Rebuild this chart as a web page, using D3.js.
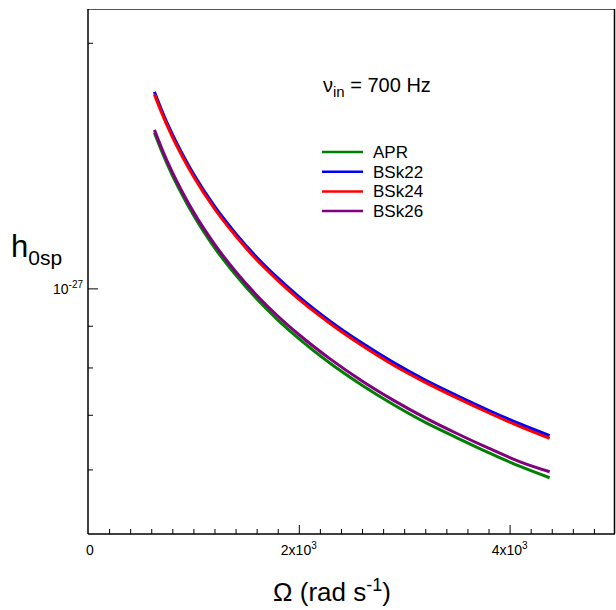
<!DOCTYPE html>
<html>
<head>
<meta charset="utf-8">
<script src="https://cdn.jsdelivr.net/npm/d3@7"></script>
<style>
  html, body { margin: 0; padding: 0; background: #fff; }
  text { font-family: "Liberation Sans", Arial, sans-serif; fill: #000; }
</style>
</head>
<body>
<svg id="chart" width="616" height="610"></svg>
<script>
// ---- data (h0sp in units of 1e-27) ----
const omega = [630, 700, 800, 900, 1000, 1200, 1400, 1600, 1800, 2000, 2300, 2600, 2900, 3200, 3500, 3800, 4100, 4380];
const hAPR   = [1.552, 1.472, 1.376, 1.298, 1.230, 1.122, 1.039, 0.971, 0.915, 0.868, 0.809, 0.761, 0.720, 0.685, 0.656, 0.629, 0.605, 0.586];
const hBSk22 = [1.741, 1.652, 1.545, 1.457, 1.382, 1.261, 1.168, 1.092, 1.030, 0.977, 0.911, 0.857, 0.811, 0.772, 0.739, 0.709, 0.682, 0.660];
const hBSk24 = [1.729, 1.640, 1.534, 1.447, 1.372, 1.252, 1.160, 1.084, 1.023, 0.970, 0.905, 0.851, 0.805, 0.767, 0.734, 0.704, 0.677, 0.655];
const hBSk26 = [1.564, 1.484, 1.388, 1.309, 1.241, 1.133, 1.049, 0.981, 0.925, 0.878, 0.819, 0.770, 0.729, 0.694, 0.664, 0.637, 0.613, 0.596];
const seriesNames = ["APR", "BSk22", "BSk24", "BSk26"];
const seriesColors = ["#008000", "#0000ff", "#ff0000", "#800080"];
const xMinorTicks = d3.range(200, 5000, 200);
const xMajorTicks = [2000, 4000];
const xTickLabels = [["0", null], ["2x10", "3"], ["4x10", "3"]];
const xTickLabelValues = [0, 2000, 4000];
const yMinorTicks = [0.6, 0.7, 0.8, 0.9, 2];
const yMajorTicks = [1];
const yTickLabel = ["10", "-27"];

const svg = d3.select("#chart");
const L = 88, R = 615, T = 9, B = 534;
const x = d3.scaleLinear().domain([0, 5000]).range([L, R]);
const y = d3.scaleLog().domain([0.5, 2.2]).range([B, T]);

// frame
svg.append("line").attr("x1", L).attr("x2", R).attr("y1", T + 0.5).attr("y2", T + 0.5)
  .attr("stroke", "#555").attr("stroke-width", 1);
svg.append("line").attr("x1", R - 0.5).attr("x2", R - 0.5).attr("y1", T).attr("y2", B)
  .attr("stroke", "#000").attr("stroke-width", 1.5);

// x axis
const xAxis = d3.axisTop(x).tickValues(xMinorTicks).tickSize(5).tickFormat("");
const gx = svg.append("g").attr("transform", `translate(0,${B})`).call(xAxis);
gx.select(".domain").remove();
gx.selectAll(".tick line").attr("stroke", "#000").attr("stroke-width", 1)
  .attr("y2", d => xMajorTicks.includes(d) ? -9 : -5);

// y axis
const yAxis = d3.axisRight(y).tickValues(yMinorTicks.concat(yMajorTicks)).tickSize(5).tickFormat("");
const gy = svg.append("g").attr("transform", `translate(${L},0)`).call(yAxis);
gy.select(".domain").remove();
gy.selectAll(".tick line").attr("stroke", "#000").attr("stroke-width", 1)
  .attr("x2", d => yMajorTicks.includes(d) ? 10 : 5);

// axis lines
svg.append("line").attr("x1", L).attr("x2", R).attr("y1", B).attr("y2", B)
  .attr("stroke", "#000").attr("stroke-width", 1.5);
svg.append("line").attr("x1", L).attr("x2", L).attr("y1", T).attr("y2", B)
  .attr("stroke", "#000").attr("stroke-width", 1.5);

// x tick labels
xTickLabelValues.forEach((v, i) => {
  const t = svg.append("text").attr("x", x(v) + (v === 0 ? 2 : 0)).attr("y", 555)
    .attr("text-anchor", "middle").attr("font-size", 14);
  t.append("tspan").text(xTickLabels[i][0]);
  if (xTickLabels[i][1]) t.append("tspan").attr("dy", -6).attr("font-size", 10).text(xTickLabels[i][1]);
});

// y tick label
{
  const t = svg.append("text").attr("x", 83).attr("y", 294).attr("text-anchor", "end").attr("font-size", 14);
  t.append("tspan").text(yTickLabel[0]);
  t.append("tspan").attr("dy", -6).attr("font-size", 10).text(yTickLabel[1]);
}

// axis titles
{
  const t = svg.append("text").attr("x", 332).attr("y", 601).attr("text-anchor", "middle").attr("font-size", 26);
  t.append("tspan").text("Ω (rad s");
  t.append("tspan").attr("dy", -10).attr("font-size", 18).text("-1");
  t.append("tspan").attr("dy", 10).text(")");
}
{
  const t = svg.append("text").attr("x", 11).attr("y", 257).attr("font-size", 31);
  t.append("tspan").text("h");
  t.append("tspan").attr("dy", 8).attr("font-size", 21).text("0sp");
}

// annotation
{
  const t = svg.append("text").attr("x", 323).attr("y", 92).attr("font-size", 20);
  t.append("tspan").text("ν");
  t.append("tspan").attr("dy", 5).attr("font-size", 15).text("in");
  t.append("tspan").attr("dy", -5).text(" = 700 Hz");
}

// curves
const allSeries = [hAPR, hBSk22, hBSk24, hBSk26];
const line = d3.line().x(d => x(d[0])).y(d => y(d[1])).curve(d3.curveMonotoneX);
allSeries.forEach((s, i) => {
  svg.append("path").datum(omega.map((o, k) => [o, s[k]]))
    .attr("d", line).attr("fill", "none")
    .attr("stroke", seriesColors[i]).attr("stroke-width", 3);
});

// legend
seriesNames.forEach((n, i) => {
  const ly = 152 + i * 19.7;
  svg.append("line").attr("x1", 322).attr("x2", 363).attr("y1", ly).attr("y2", ly)
    .attr("stroke", seriesColors[i]).attr("stroke-width", 2.5);
  svg.append("text").attr("x", 373).attr("y", ly + 6).attr("font-size", 17).text(n);
});
</script>
</body>
</html>
